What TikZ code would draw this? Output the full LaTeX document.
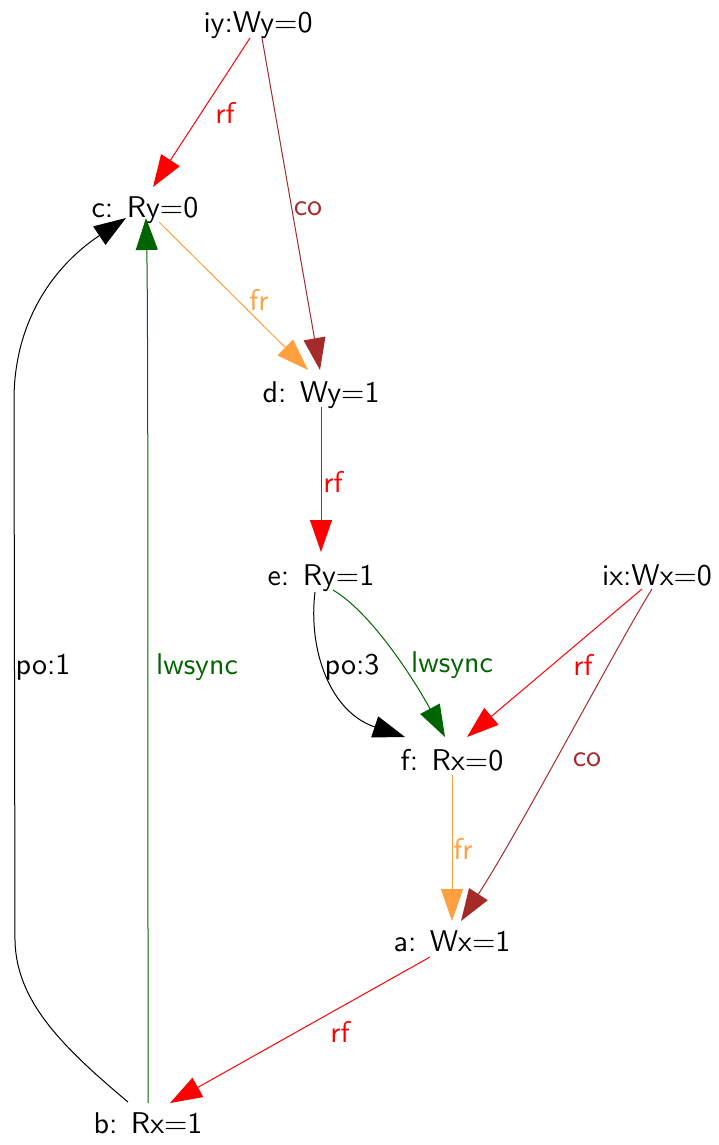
\documentclass[tikz,border=0pt]{standalone}
\usepackage{fontspec}
\setsansfont{lmsans10-regular.otf}
\usetikzlibrary{arrows.meta}
\definecolor{rfred}{HTML}{FF0000}
\definecolor{cobrown}{HTML}{A52A2A}
\definecolor{frorange}{HTML}{FFA040}
\definecolor{syncgreen}{HTML}{006400}
\newcommand{\lblgap}{\hspace{0.45em}}
\begin{document}
\begin{tikzpicture}[x=1pt,y=-1pt,
  font=\sffamily\fontsize{30}{36}\selectfont,
  ev/.style={inner sep=0pt, anchor=base},
  lbl/.style={inner sep=0pt, anchor=center},
  edge/.style={line width=1pt, -{Triangle[length=32pt,width=22pt]}},
  rfedge/.style={edge, rfred},
  coedge/.style={edge, cobrown},
  fredge/.style={edge, frorange},
  poedge/.style={edge, black},
  syncedge/.style={edge, syncgreen}]
\useasboundingbox (0,0) rectangle (719,1145);

% events
\node[ev] (iy) at (258,33)   {iy:Wy=0};
\node[ev] (c)  at (145,217)  {c:\lblgap Ry=0};
\node[ev] (d)  at (321,402)  {d:\lblgap Wy=1};
\node[ev] (e)  at (321,585)  {e:\lblgap Ry=1};
\node[ev] (ix) at (657,585)  {ix:Wx=0};
\node[ev] (f)  at (452,770)  {f:\lblgap Rx=0};
\node[ev] (a)  at (452,951)  {a:\lblgap Wx=1};
\node[ev] (b)  at (148,1133) {b:\lblgap Rx=1};

% relations
\draw[rfedge] ([xshift=-8pt,yshift=-5pt]iy.base) -- ([xshift=8pt,yshift=30pt]c.base);
\draw[coedge] ([xshift=4pt,yshift=-5pt]iy.base) -- ([xshift=-1pt,yshift=32pt]d.base);
\draw[fredge] ([xshift=14pt,yshift=-5pt]c.base) -- ([xshift=-13pt,yshift=32pt]d.base);
\draw[rfedge] ([yshift=-5pt]d.base) -- ([yshift=33pt]e.base);
\draw[poedge] ([xshift=-6pt,yshift=-7pt]e.base) .. controls (308,650) and (330,712) .. ([xshift=-47pt,yshift=33pt]f.base);
\draw[syncedge] ([xshift=12pt,yshift=-5pt]e.base) .. controls (375,615) and (420,690) .. ([xshift=-7pt,yshift=33pt]f.base);
\draw[rfedge] ([xshift=-15pt,yshift=-4pt]ix.base) -- ([xshift=15pt,yshift=33pt]f.base);
\draw[coedge] ([xshift=-5pt,yshift=-4pt]ix.base) .. controls (620,640) and (520,830) .. ([xshift=9pt,yshift=30pt]a.base);
\draw[fredge] ([yshift=-5pt]f.base) -- ([yshift=30pt]a.base);
\draw[rfedge] ([xshift=-22pt,yshift=-6pt]a.base) -- ([xshift=22pt,yshift=30pt]b.base);
\draw[poedge] ([xshift=-20pt,yshift=31pt]b.base) .. controls (60,1045) and (16,1000) .. (15,940)
  -- (14,400) .. controls (14,320) and (55,265) .. ([xshift=-19pt,yshift=-1pt]c.base);
\draw[syncedge] ([yshift=30pt]b.base) .. controls (148,600) and (148,300) .. ([xshift=1pt,yshift=-1pt]c.base);

% relation labels
\node[lbl,text=rfred]     (l1)  at (225,113)  {rf};
\node[lbl,text=cobrown]   (l2)  at (308,209)  {co};
\node[lbl,text=frorange]  (l3)  at (259,300)  {fr};
\node[lbl,text=rfred]     (l4)  at (333,482)  {rf};
\node[lbl,text=black]     (l5)  at (352,667)  {po:3};
\node[lbl,text=syncgreen] (l6)  at (452,665)  {lwsync};
\node[lbl,text=rfred]     (l7)  at (583,665)  {rf};
\node[lbl,text=cobrown]   (l8)  at (587,760)  {co};
\node[lbl,text=frorange]  (l9)  at (463,849)  {fr};
\node[lbl,text=rfred]     (l10) at (340,1032) {rf};
\node[lbl,text=black]     (l11) at (43,667)   {po:1};
\node[lbl,text=syncgreen] (l12) at (197,667)  {lwsync};
\end{tikzpicture}
\end{document}
